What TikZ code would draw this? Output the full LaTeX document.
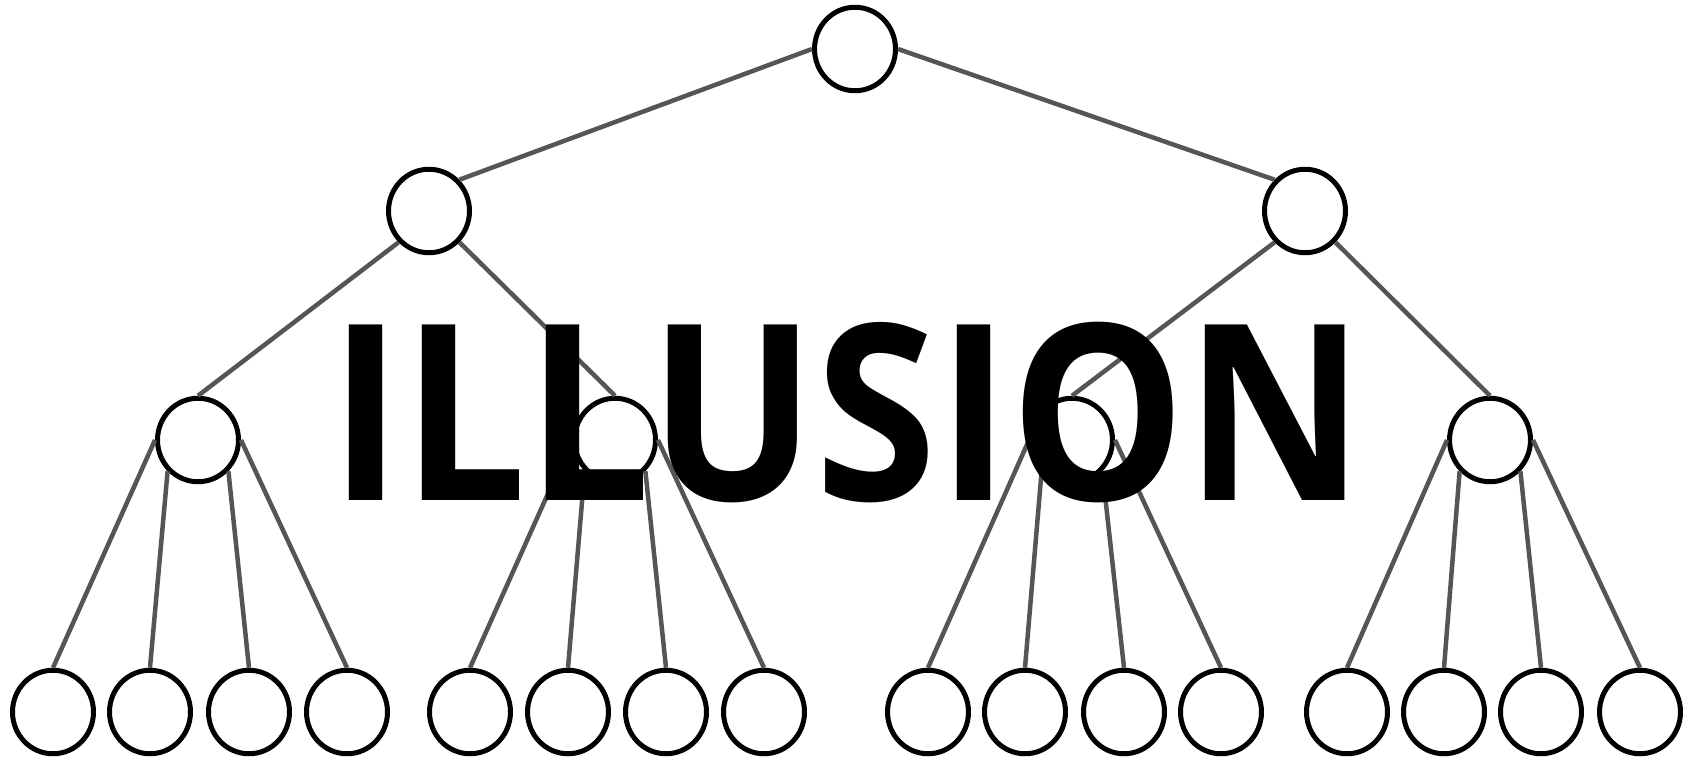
\documentclass[tikz,border=0pt]{standalone}
\usepackage{fontspec}
\usepackage{tikz}
\usetikzlibrary{shapes.geometric}
\usepackage{xcolor}
\newfontfamily\titlefont{Open Sans}
\definecolor{edgegray}{HTML}{555555}
\tikzset{
	treenode/.style={ellipse,draw=black,fill=white,line width=0.1cm,minimum width=1.62cm,minimum height=1.67cm,inner sep=0pt},
	treeedge/.style={draw=edgegray,line width=0.09cm}
}

\begin{document}
\begin{tikzpicture}[x=0.02cm,y=-0.02cm]
		\useasboundingbox (0,0) rectangle (1696,761);
		
		% Root and first level
		\node[treenode] (root) at (855,49) {};
		\node[treenode] (l) at (429,211) {};
		\node[treenode] (r) at (1305,211) {};
		
		% Second level
		\node[treenode] (ll) at (198,440) {};
		\node[treenode] (lr) at (615,440) {};
		\node[treenode] (rl) at (1072,440) {};
		\node[treenode] (rr) at (1490,440) {};
		
		% Leaves
		\node[treenode] (ll1) at (53,712) {};
		\node[treenode] (ll2) at (150,712) {};
		\node[treenode] (ll3) at (249,712) {};
		\node[treenode] (ll4) at (347,712) {};
		\node[treenode] (lr1) at (470,712) {};
		\node[treenode] (lr2) at (568,712) {};
		\node[treenode] (lr3) at (666,712) {};
		\node[treenode] (lr4) at (764,712) {};
		\node[treenode] (rl1) at (928,712) {};
		\node[treenode] (rl2) at (1025,712) {};
		\node[treenode] (rl3) at (1124,712) {};
		\node[treenode] (rl4) at (1221,712) {};
		\node[treenode] (rr1) at (1347,712) {};
		\node[treenode] (rr2) at (1444,712) {};
		\node[treenode] (rr3) at (1541,712) {};
		\node[treenode] (rr4) at (1640,712) {};
		
		% Edges
		\draw[treeedge] (root.west) -- (l.north east);
		\draw[treeedge] (root.east) -- (r.north west);
		\draw[treeedge] (l.south west) -- (ll.north);
		\draw[treeedge] (l.south east) -- (lr.north);
		\draw[treeedge] (r.south west) -- (rl.north);
		\draw[treeedge] (r.south east) -- (rr.north);
		
		\draw[treeedge] (ll.west) -- (ll1.north);
		\draw[treeedge] (ll.south west) -- (ll2.north);
		\draw[treeedge] (ll.south east) -- (ll3.north);
		\draw[treeedge] (ll.east) -- (ll4.north);
		\draw[treeedge] (lr.west) -- (lr1.north);
		\draw[treeedge] (lr.south west) -- (lr2.north);
		\draw[treeedge] (lr.south east) -- (lr3.north);
		\draw[treeedge] (lr.east) -- (lr4.north);
		\draw[treeedge] (rl.west) -- (rl1.north);
		\draw[treeedge] (rl.south west) -- (rl2.north);
		\draw[treeedge] (rl.south east) -- (rl3.north);
		\draw[treeedge] (rl.east) -- (rl4.north);
		\draw[treeedge] (rr.west) -- (rr1.north);
		\draw[treeedge] (rr.south west) -- (rr2.north);
		\draw[treeedge] (rr.south east) -- (rr3.north);
		\draw[treeedge] (rr.east) -- (rr4.north);
		
		% Title on top
		\node[anchor=base,inner sep=0pt] (title) at (847,500) {\titlefont\bfseries\fontsize{140}{140}\selectfont\scalebox{0.896}[1]{ILLUSION}};
	\end{tikzpicture}
\end{document}
